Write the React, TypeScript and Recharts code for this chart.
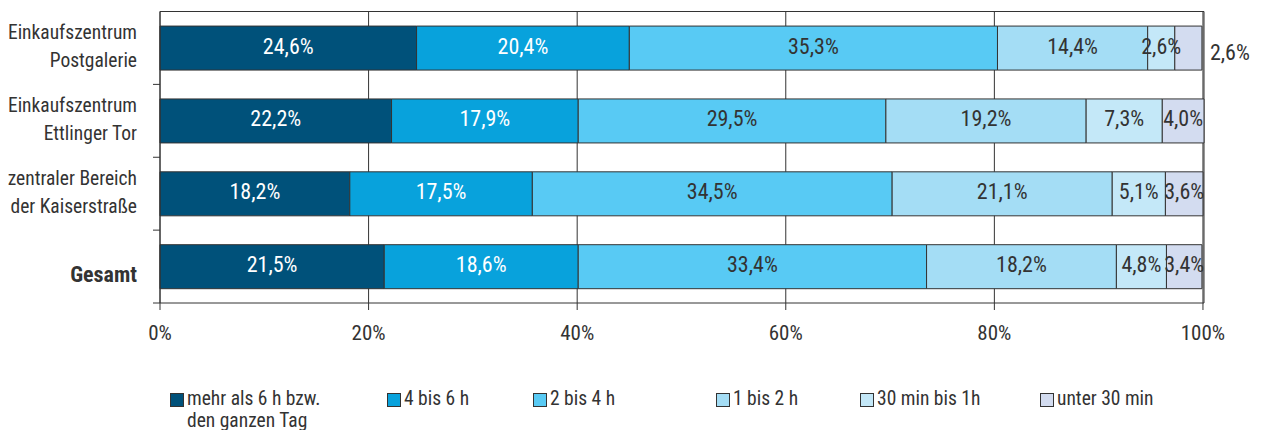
import React from 'react';
import { BarChart, Bar, XAxis, YAxis, CartesianGrid, LabelList } from 'recharts';

const categories = [
  'Einkaufszentrum\nPostgalerie',
  'Einkaufszentrum\nEttlinger Tor',
  'zentraler Bereich\nder Kaiserstraße',
  'Gesamt',
];
const seriesNames = [
  'mehr als 6 h bzw.\nden ganzen Tag',
  '4 bis 6 h',
  '2 bis 4 h',
  '1 bis 2 h',
  '30 min bis 1h',
  'unter 30 min',
];
const over6h = [24.6, 22.2, 18.2, 21.5];
const h4to6 = [20.4, 17.9, 17.5, 18.6];
const h2to4 = [35.3, 29.5, 34.5, 33.4];
const h1to2 = [14.4, 19.2, 21.1, 18.2];
const min30to1h = [2.6, 7.3, 5.1, 4.8];
const under30 = [2.6, 4.0, 3.6, 3.4];
const xTicks = [0, 20, 40, 60, 80, 100];

const seriesValues = [over6h, h4to6, h2to4, h1to2, min30to1h, under30];
const keys = ['s0', 's1', 's2', 's3', 's4', 's5'];
const colors = ['#00517A', '#08A2DC', '#58CAF4', '#A4DDF5', '#C4E8F8', '#D3DCF0'];
const labelColors = ['#ffffff', '#ffffff', '#333333', '#333333', '#333333', '#333333'];

const data = categories.map((c, i) => {
  const row: any = { name: c };
  keys.forEach((k, j) => (row[k] = seriesValues[j][i]));
  return row;
});

const FONT = '"Liberation Sans Narrow", "Arial Narrow", "Roboto Condensed", "Open Sans", sans-serif';
const TEXT = '#333333';

const W = 1252;
const H = 345;
const M = { top: 3.5, right: 56, bottom: 5, left: 0 };
const Y_W = 152;
const X_H = 45;
const plotTop = M.top;
const plotBottom = H - M.bottom - X_H;
const bandHalf = (plotBottom - plotTop) / categories.length / 2;

const fmt = (v: number) => v.toFixed(1).replace('.', ',') + '%';

const YTick = (props: any) => {
  const { y, payload } = props;
  const lines = String(payload.value).split('\n');
  const bold = lines.length === 1;
  const xr = Y_W - 23;
  return (
    <g>
      <line x1={Y_W - 7} x2={Y_W} y1={y + bandHalf} y2={y + bandHalf} stroke="#333" strokeWidth={1} />
      {bold ? (
        <text x={xr} y={y + 15} textAnchor="end" fontFamily={FONT} fontSize={22} fontWeight="bold" fill={TEXT}>
          {lines[0]}
        </text>
      ) : (
        lines.map((l, i) => (
          <text key={i} x={xr} y={y - 9 + i * 28} textAnchor="end" fontFamily={FONT} fontSize={19.5} fill={TEXT}>
            {l}
          </text>
        ))
      )}
    </g>
  );
};

const makeLabel = (si: number) => (props: any) => {
  const { x, y, width, height, value } = props;
  const outside = si === keys.length - 1 && value < 3;
  return (
    <text
      x={outside ? x + width + 8 : x + width / 2}
      y={y + height / 2 + (outside ? 4 : -2)}
      textAnchor={outside ? 'start' : 'middle'}
      dominantBaseline="central"
      fontFamily={FONT}
      fontSize={22}
      fill={outside ? TEXT : labelColors[si]}
    >
      {fmt(value)}
    </text>
  );
};

const legendX = [162, 379, 525, 708, 852, 1032];

export default function App() {
  return (
    <div style={{ position: 'relative', width: W, height: 422, fontFamily: FONT }}>
      <BarChart
        width={W}
        height={H}
        data={data}
        layout="vertical"
        margin={M}
        barCategoryGap="20%"
      >
        <CartesianGrid stroke="#333" strokeWidth={1} horizontalPoints={[plotTop]} />
        <XAxis
          type="number"
          domain={[0, 100]}
          ticks={xTicks}
          interval={0}
          height={X_H}
          tickSize={7}
          tickMargin={15}
          tickFormatter={(v: number) => v + '%'}
          tick={{ fontFamily: FONT, fontSize: 21, fill: TEXT }}
          axisLine={{ stroke: '#333' }}
          tickLine={{ stroke: '#333' }}
        />
        <YAxis
          type="category"
          dataKey="name"
          width={Y_W}
          tickLine={false}
          axisLine={{ stroke: '#333' }}
          tick={<YTick />}
          interval={0}
        />
        {keys.map((k, i) => (
          <Bar
            key={k}
            dataKey={k}
            stackId="a"
            fill={colors[i]}
            stroke="#333"
            strokeWidth={1}
            isAnimationActive={false}
          >
            <LabelList dataKey={k} content={makeLabel(i)} />
          </Bar>
        ))}
      </BarChart>
      {seriesNames.map((n, i) => (
        <div
          key={n}
          style={{
            position: 'absolute',
            left: legendX[i],
            top: 380,
            display: 'flex',
            alignItems: 'flex-start',
            fontSize: 19.5,
            lineHeight: '22px',
            color: TEXT,
            whiteSpace: 'pre',
          }}
        >
          <div
            style={{
              width: 12,
              height: 12,
              background: colors[i],
              border: '1px solid #333',
              marginTop: 5,
              marginRight: 3,
              flexShrink: 0,
            }}
          />
          <div>{n}</div>
        </div>
      ))}
    </div>
  );
}
